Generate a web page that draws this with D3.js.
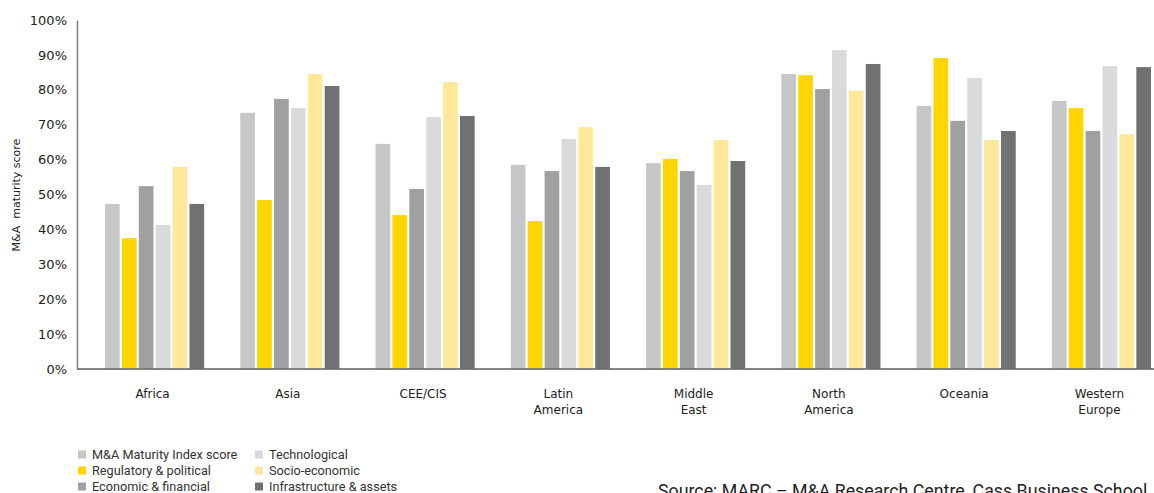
<!DOCTYPE html>
<html><head><meta charset="utf-8">
<script src="https://cdn.jsdelivr.net/npm/d3@7"></script>
<style>body{margin:0;background:#fff}svg{display:block}</style>
</head><body><svg id="c" width="1154" height="493"></svg>
<script>
const categories = ["Africa","Asia","CEE/CIS","Latin\nAmerica","Middle\nEast","North\nAmerica","Oceania","Western\nEurope"];
const seriesNames = ["M&A Maturity Index score","Regulatory & political","Economic & financial","Technological","Socio-economic","Infrastructure & assets"];
const seriesColors = ["#c6c7c8","#ffd500","#9fa0a2","#d9dadc","#ffe899","#707173"];
const maIndex      = [47.3,73.4,64.5,58.5,59.0,84.5,75.4,76.8];
const regulatory   = [37.5,48.4,44.1,42.4,60.2,84.2,89.1,74.8];
const economic     = [52.4,77.4,51.6,56.7,56.7,80.2,71.1,68.2];
const technological= [41.3,74.8,72.2,65.9,52.7,91.4,83.4,86.8];
const socio        = [57.9,84.5,82.2,69.3,65.6,79.7,65.6,67.3];
const infra        = [47.3,81.1,72.5,57.9,59.6,87.4,68.2,86.5];
const yTicks = [0,10,20,30,40,50,60,70,80,90,100];
const sourceText = "Source: MARC \u2013 M&A Research Centre, Cass Business School";

const series = [maIndex,regulatory,economic,technological,socio,infra];
const svg = d3.select("#c");
const x0 = d3.scaleBand().domain(categories).range([105,1151]).paddingInner(0.267).paddingOuter(0);
const x1 = d3.scaleBand().domain(d3.range(series.length)).range([0,x0.bandwidth()]).paddingInner(0.13);
const y = d3.scaleLinear().domain([0,100]).range([369,20]);

// bars
categories.forEach((c,ci)=>{
  const g = svg.append("g").attr("transform",`translate(${x0(c)},0)`);
  series.forEach((s,si)=>{
    g.append("rect").attr("x",x1(si)).attr("width",x1.bandwidth())
      .attr("y",y(s[ci])).attr("height",y(0)-y(s[ci])).attr("fill",seriesColors[si]);
  });
});

// y axis
const yAxis = d3.axisLeft(y).tickValues(yTicks).tickSize(0).tickPadding(10).tickFormat(d=>d+"%");
const ya = svg.append("g").attr("transform","translate(77,0)").call(yAxis);
ya.select(".domain").attr("stroke","#7f7f7f").attr("stroke-width",1.5);
ya.selectAll("text").attr("font-family","DejaVu Sans, Verdana, sans-serif").attr("font-size",13).attr("fill","#222");

// x baseline
svg.append("line").attr("x1",77).attr("x2",1154).attr("y1",y(0)).attr("y2",y(0))
  .attr("stroke","#6e6e6e").attr("stroke-width",2).attr("stroke-opacity",0.85);

// category labels
categories.forEach(c=>{
  const t = svg.append("text").attr("text-anchor","middle")
    .attr("font-family","DejaVu Sans, Verdana, sans-serif").attr("font-size",12).attr("fill","#222");
  c.split("\n").forEach((line,i)=>{
    t.append("tspan").attr("x",x0(c)+x0.bandwidth()/2-2).attr("y",398+i*16).text(line);
  });
});

// y title
svg.append("text").attr("transform","translate(20,195) rotate(-90)").attr("text-anchor","middle")
  .attr("font-family","DejaVu Sans, Verdana, sans-serif").attr("font-size",11).attr("fill","#222")
  .attr("xml:space","preserve").text("M&A  maturity score");

// legend
seriesNames.forEach((n,i)=>{
  const col = i<3?0:1, row = i%3;
  const lx = col===0?78:255, ly = 454.5+row*16;
  svg.append("rect").attr("x",lx).attr("y",ly-4).attr("width",8).attr("height",8).attr("fill",seriesColors[i]);
  svg.append("text").attr("x",lx+14).attr("y",ly+4.3)
    .attr("font-family","Roboto, Lato, sans-serif").attr("font-size",12.7).attr("fill","#333").text(n);
});

// source
svg.append("text").attr("x",658).attr("y",497)
  .attr("font-family","Roboto, Lato, sans-serif").attr("font-size",17.8).attr("fill","#222").text(sourceText);
</script></body></html>
